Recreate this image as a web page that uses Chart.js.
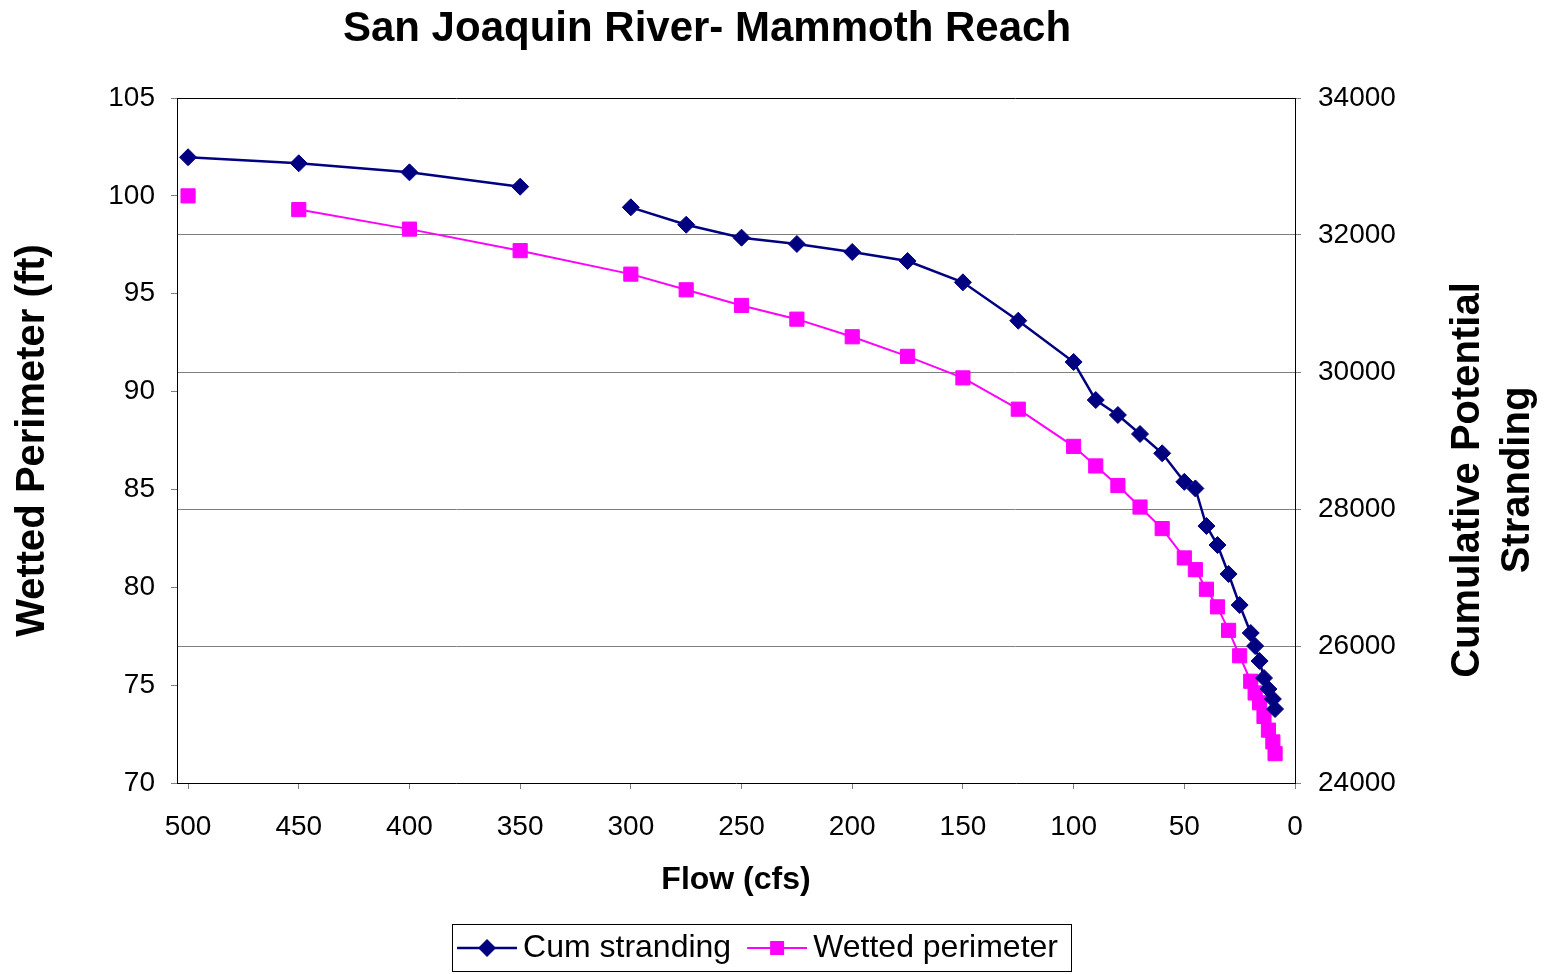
<!DOCTYPE html>
<html>
<head>
<meta charset="utf-8">
<title>San Joaquin River- Mammoth Reach</title>
<script src="https://cdn.jsdelivr.net/npm/chart.js@4.4.0/dist/chart.umd.min.js"></script>
<style>
  html, body { margin: 0; padding: 0; background: #fff; }
  canvas { display: block; }
</style>
</head>
<body>
<canvas id="myChart" width="1549" height="974"></canvas>
<script>
// flow (cfs), shared by both series
var flows = [500, 450, 400, 350, 300, 275, 250, 225, 200, 175, 150, 125, 100, 90, 80, 70,
             60, 50, 45, 40, 35, 30, 25, 20, 18, 16, 14, 12, 10, 9];
var cumStranding = [33135, 33047, 32915, 32705, 32404, 32150, 31961, 31869, 31752, 31620, 31309, 30749,
                    30146, 29591, 29372, 29095, 28813, 28396, 28300, 27752, 27474, 27051, 26598, 26190,
                    26000, 25781, 25533, 25372, 25226, 25080];
var wettedPerimeter = [100.0, 99.3, 98.3, 97.2, 96.0, 95.2, 94.4, 93.7, 92.8, 91.8, 90.7, 89.1,
                       87.2, 86.2, 85.2, 84.1, 83.0, 81.5, 80.9, 79.9, 79.0, 77.8, 76.5, 75.2,
                       74.6, 74.1, 73.4, 72.7, 72.1, 71.5];
// the line breaks after these flows (missing rows in the sheet)
var strandingGapAfter = 350;
var perimeterGapAfter = 500;

var flowTicks = [500, 450, 400, 350, 300, 250, 200, 150, 100, 50, 0];
var perimeterTicks = [70, 75, 80, 85, 90, 95, 100, 105];
var strandingTicks = [24000, 26000, 28000, 30000, 32000, 34000];

var NAVY = '#000080';
var PINK = '#FF00FF';
var FONT = "'Liberation Sans', Arial, sans-serif";

Chart.defaults.color = '#000';
Chart.defaults.font.family = FONT;

function points(ys) {
    return flows.map(function (f, i) { return {x: f, y: ys[i]}; });
}

function setTicks(list) {
    return function (scale) {
        scale.ticks = list.map(function (v) { return {value: v}; });
    };
}

function legendIcon(color, style, lineWidth) {
    var c = document.createElement('canvas');
    c.width = 64; c.height = 24;
    var g = c.getContext('2d');
    g.strokeStyle = color;
    g.fillStyle = color;
    g.lineWidth = lineWidth;
    g.beginPath(); g.moveTo(4, 12); g.lineTo(64, 12); g.stroke();
    g.beginPath();
    if (style === 'diamond') {
        g.moveTo(34, 3); g.lineTo(43, 12); g.lineTo(34, 21); g.lineTo(25, 12);
    } else {
        g.rect(27, 5, 14, 14);
    }
    g.closePath(); g.fill();
    return c;
}

var icons = [legendIcon(NAVY, 'diamond', 2.5), legendIcon(PINK, 'square', 2)];

var extras = {
    id: 'extras',
    afterDraw: function (chart) {
        var ctx = chart.ctx;
        ctx.save();
        ctx.fillStyle = '#000';
        ctx.textAlign = 'center';
        ctx.textBaseline = 'middle';
        ctx.font = 'bold 42px ' + FONT;
        ctx.fillText('San Joaquin River- Mammoth Reach', 707, 29);

        // right axis title reads bottom to top
        ctx.font = 'bold 40px ' + FONT;
        ctx.translate(1493, 480);
        ctx.rotate(-Math.PI / 2);
        ctx.fillText('Cumulative Potential', 0, -25);
        ctx.fillText('Stranding', 0, 25);
        ctx.restore();

        // box round the legend
        var hb = chart.legend.legendHitBoxes;
        if (hb && hb.length) {
            var last = hb[hb.length - 1];
            var l = hb[0].left - 11, r = last.left + last.width + 13;
            var t = hb[0].top - 8, b = hb[0].top + hb[0].height + 7;
            ctx.save();
            ctx.strokeStyle = '#000';
            ctx.lineWidth = 1;
            ctx.strokeRect(Math.round(l) + 0.5, Math.round(t) + 0.5, Math.round(r - l), Math.round(b - t));
            ctx.restore();
        }
    }
};

var ctx = document.getElementById('myChart').getContext('2d');
var chart = new Chart(ctx, {
    type: 'line',
    data: {
        datasets: [{
            label: 'Cum stranding',
            data: points(cumStranding),
            yAxisID: 'y1',
            borderColor: NAVY,
            backgroundColor: NAVY,
            borderWidth: 2.5,
            pointStyle: 'rectRot',
            pointRadius: 8.5,
            pointBorderWidth: 1,
            pointBackgroundColor: NAVY,
            pointBorderColor: NAVY,
            tension: 0,
            segment: {
                borderColor: function (c) { return c.p0.parsed.x === strandingGapAfter ? 'rgba(0,0,0,0)' : undefined; }
            }
        }, {
            label: 'Wetted perimeter',
            data: points(wettedPerimeter),
            yAxisID: 'y',
            borderColor: PINK,
            backgroundColor: PINK,
            borderWidth: 2,
            pointStyle: 'rect',
            pointRadius: 10,
            pointBorderWidth: 1,
            pointBackgroundColor: PINK,
            pointBorderColor: PINK,
            tension: 0,
            segment: {
                borderColor: function (c) { return c.p0.parsed.x === perimeterGapAfter ? 'rgba(0,0,0,0)' : undefined; }
            }
        }]
    },
    options: {
        responsive: false,
        animation: false,
        layout: { padding: { top: 98, right: 28, left: 0, bottom: 0 } },
        plugins: {
            title: { display: false },
            tooltip: { enabled: false },
            legend: {
                position: 'bottom',
                labels: {
                    font: { size: 32, family: FONT },
                    color: '#000',
                    padding: 22,
                    usePointStyle: true,
                    pointStyleWidth: 44,
                    generateLabels: function (chart) {
                        var items = Chart.defaults.plugins.legend.labels.generateLabels(chart);
                        items.forEach(function (it, i) { it.pointStyle = icons[i]; });
                        return items;
                    }
                }
            }
        },
        scales: {
            x: {
                type: 'linear',
                reverse: true,
                min: 0,
                max: 505,
                afterBuildTicks: setTicks(flowTicks),
                afterFit: function (scale) { scale.height = 127; },
                grid: { drawOnChartArea: false, tickLength: 6, tickColor: '#808080' },
                border: { color: '#000', width: 1 },
                ticks: { font: { size: 28 }, padding: 21, maxRotation: 0, autoSkip: false },
                title: {
                    display: true,
                    text: 'Flow (cfs)',
                    font: { size: 32, weight: 'bold' },
                    padding: { top: 0, bottom: 11 }
                }
            },
            y: {
                position: 'left',
                min: 70,
                max: 105,
                afterBuildTicks: setTicks(perimeterTicks),
                afterFit: function (scale) { scale.width = 177; },
                grid: { drawOnChartArea: false, tickLength: 6, tickColor: '#808080' },
                border: { color: '#000', width: 1 },
                ticks: { font: { size: 28 }, padding: 16 },
                title: {
                    display: true,
                    text: 'Wetted Perimeter (ft)',
                    font: { size: 40, weight: 'bold' },
                    padding: { top: 9, bottom: 0 }
                }
            },
            y1: {
                position: 'right',
                min: 24000,
                max: 34000,
                afterBuildTicks: setTicks(strandingTicks),
                afterFit: function (scale) { scale.width = 226; },
                grid: {
                    tickLength: 6,
                    tickColor: '#808080',
                    color: function (c) {
                        if (!c.tick) return '#808080';
                        if (c.tick.value === 34000) return '#000';
                        if (c.tick.value === 24000) return 'rgba(0,0,0,0)';
                        return '#808080';
                    }
                },
                border: { color: '#000', width: 1 },
                ticks: {
                    font: { size: 28 },
                    padding: 17,
                    callback: function (v) { return String(v); }
                }
            }
        }
    },
    plugins: [extras]
});
</script>
</body>
</html>
